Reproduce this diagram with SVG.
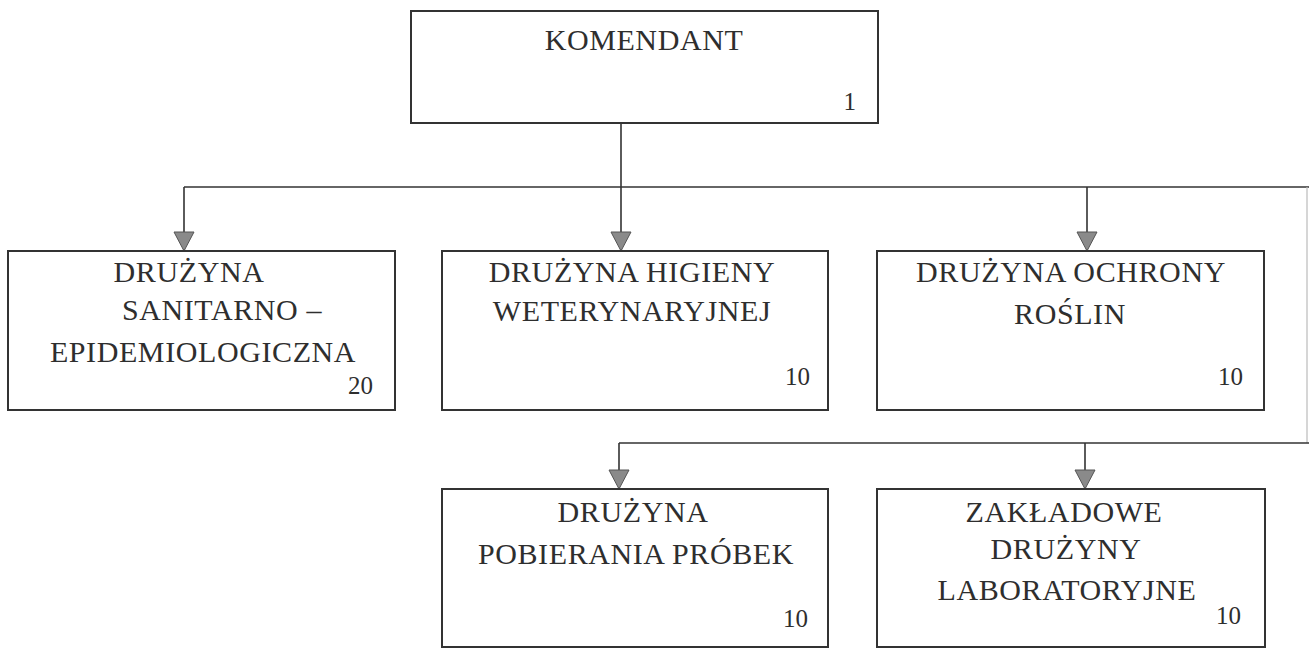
<svg xmlns="http://www.w3.org/2000/svg" width="1309" height="648" viewBox="0 0 1309 648">
<style>
  .box { fill: #fff; stroke: #333; stroke-width: 2; }
  .lbl { font-family: 'Liberation Serif', 'DejaVu Serif', serif; font-size: 30px; fill: #2e2e2e; text-anchor: middle; letter-spacing: 0.6px; }
  .num { font-family: 'Liberation Serif', 'DejaVu Serif', serif; font-size: 25px; fill: #2e2e2e; text-anchor: end; }
  .conn { fill: none; stroke: #333; stroke-width: 1.6; }
  .faint { fill: none; stroke: #bbb; stroke-width: 1.2; }
</style>
<defs>
  <marker id="arr" markerUnits="userSpaceOnUse" markerWidth="22" markerHeight="21" refX="11" refY="20" orient="0" overflow="visible">
    <path d="M1,1 L21,1 L11,20 Z" fill="#8a8a8a" stroke="#555" stroke-width="1"/>
  </marker>
</defs>
<rect width="1309" height="648" fill="#fff"/>

<g id="connectors">
  <line class="conn" x1="621" y1="123" x2="621" y2="187"/>
  <line class="conn" x1="184" y1="187" x2="1309" y2="187"/>
  <line class="faint" x1="1307" y1="187" x2="1307" y2="443"/>
  <line class="conn" x1="184" y1="187" x2="184" y2="251" marker-end="url(#arr)"/>
  <line class="conn" x1="621" y1="187" x2="621" y2="251" marker-end="url(#arr)"/>
  <line class="conn" x1="1087" y1="187" x2="1087" y2="251" marker-end="url(#arr)"/>
  <line class="conn" x1="619" y1="443" x2="1309" y2="443"/>
  <line class="conn" x1="619" y1="443" x2="619" y2="489" marker-end="url(#arr)"/>
  <line class="conn" x1="1085" y1="443" x2="1085" y2="489" marker-end="url(#arr)"/>
</g>

<g id="komendant">
  <rect class="box" x="411" y="11" width="467" height="112"/>
  <text class="lbl" x="644" y="50">KOMENDANT</text>
  <text class="num" x="856" y="110">1</text>
</g>

<g id="sanitarno">
  <rect class="box" x="8" y="251" width="387" height="159"/>
  <text class="lbl" x="189" y="282">DRUŻYNA</text>
  <text class="lbl" x="222" y="320">SANITARNO –</text>
  <text class="lbl" x="203" y="362">EPIDEMIOLOGICZNA</text>
  <text class="num" x="373" y="394">20</text>
</g>

<g id="higieny">
  <rect class="box" x="442" y="251" width="386" height="159"/>
  <text class="lbl" x="632" y="282">DRUŻYNA HIGIENY</text>
  <text class="lbl" x="632" y="321">WETERYNARYJNEJ</text>
  <text class="num" x="810" y="385">10</text>
</g>

<g id="ochrony">
  <rect class="box" x="877" y="251" width="387" height="159"/>
  <text class="lbl" x="1071" y="282">DRUŻYNA OCHRONY</text>
  <text class="lbl" x="1070" y="324">ROŚLIN</text>
  <text class="num" x="1243" y="385">10</text>
</g>

<g id="probek">
  <rect class="box" x="442" y="489" width="386" height="158"/>
  <text class="lbl" x="633" y="522">DRUŻYNA</text>
  <text class="lbl" x="636" y="564">POBIERANIA PRÓBEK</text>
  <text class="num" x="808" y="627">10</text>
</g>

<g id="laboratoryjne">
  <rect class="box" x="877" y="489" width="388" height="158"/>
  <text class="lbl" x="1064" y="522">ZAKŁADOWE</text>
  <text class="lbl" x="1066" y="559">DRUŻYNY</text>
  <text class="lbl" x="1067" y="600">LABORATORYJNE</text>
  <text class="num" x="1241" y="624">10</text>
</g>
</svg>
